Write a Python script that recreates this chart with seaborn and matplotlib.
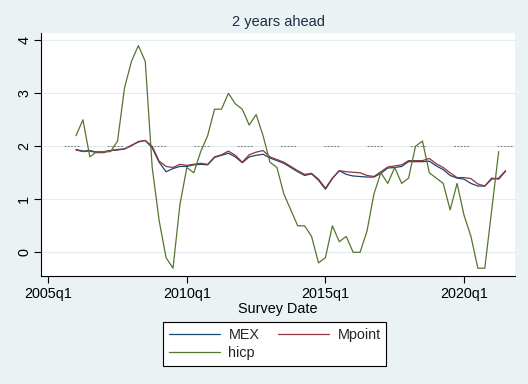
import matplotlib
matplotlib.use("Agg")
import matplotlib.pyplot as plt
import seaborn as sns
import numpy as np
import pandas as pd

# ---- data (quarterly, 2006q1 .. 2021q3) ----
quarters = pd.period_range("2006Q1", "2021Q3", freq="Q")

mex = [1.94, 1.91, 1.92, 1.89, 1.90, 1.92, 1.93, 1.95, 2.01, 2.09, 2.11, 1.97, 1.70, 1.52, 1.58,
       1.62, 1.62, 1.65, 1.66, 1.65, 1.79, 1.83, 1.87, 1.80, 1.69, 1.80, 1.83, 1.85, 1.78, 1.73,
       1.68, 1.60, 1.52, 1.45, 1.48, 1.36, 1.19, 1.39, 1.54, 1.47, 1.44, 1.43, 1.42, 1.42, 1.49,
       1.59, 1.60, 1.62, 1.71, 1.71, 1.71, 1.72, 1.63, 1.56, 1.45, 1.40, 1.38, 1.30, 1.25, 1.25,
       1.40, 1.38, 1.53]
mpoint = [1.93, 1.90, 1.91, 1.88, 1.88, 1.92, 1.94, 1.95, 2.02, 2.08, 2.11, 2.00, 1.72, 1.62, 1.60,
          1.66, 1.64, 1.66, 1.68, 1.66, 1.80, 1.84, 1.91, 1.83, 1.70, 1.84, 1.89, 1.92, 1.80, 1.75,
          1.70, 1.62, 1.54, 1.47, 1.49, 1.38, 1.21, 1.40, 1.54, 1.52, 1.51, 1.50, 1.45, 1.43, 1.52,
          1.61, 1.63, 1.65, 1.73, 1.73, 1.73, 1.77, 1.67, 1.60, 1.50, 1.41, 1.41, 1.39, 1.29, 1.25,
          1.38, 1.40, 1.54]
hicp = [2.2, 2.5, 1.8, 1.9, 1.9, 1.9, 2.1, 3.1, 3.6, 3.9, 3.6, 1.6, 0.6, -0.1, -0.3,
        0.9, 1.6, 1.5, 1.9, 2.2, 2.7, 2.7, 3.0, 2.8, 2.7, 2.4, 2.6, 2.2, 1.7, 1.6,
        1.1, 0.8, 0.5, 0.5, 0.3, -0.2, -0.1, 0.5, 0.2, 0.3, 0.0, 0.0, 0.4, 1.1, 1.5,
        1.3, 1.6, 1.3, 1.4, 2.0, 2.1, 1.5, 1.4, 1.3, 0.8, 1.3, 0.7, 0.3, -0.3, -0.3,
        0.8, 1.9, np.nan]

series_names = ["MEX", "Mpoint", "hicp"]
colors = ["#1a476f", "#90353b", "#55752f"]
x_ticks = [2005, 2010, 2015, 2020]
x_ticklabels = ["2005q1", "2010q1", "2015q1", "2020q1"]
y_ticks = [0, 1, 2, 3, 4]
target = 2

t = quarters.year + (quarters.quarter - 1) / 4.0
df = pd.DataFrame({"t": np.tile(t, 3),
                   "value": mex + mpoint + hicp,
                   "series": np.repeat(series_names, len(t))})

# ---- style ----
bg = "#eaf2f3"
sns.set_style("white")
plt.rcParams["font.family"] = ["Liberation Sans", "DejaVu Sans"]
plt.rcParams["lines.scale_dashes"] = False

fig = plt.figure(figsize=(5.28, 3.84), dpi=100, facecolor=bg)
ax = fig.add_axes([41/528, 1-276/384, (515-41)/528, (276-32.5)/384])
ax.set_facecolor("white")

for yv in y_ticks:
    ax.axhline(yv, color="#e2ebee", lw=0.8, zorder=0)

# dashed reference line at 2 (groups of small dots), pattern in points
px = 0.72
dot, dgap = 1.8 * px, 1.5 * px
pattern = (dot, dgap) * 4 + (dot, 28.3 * px)
ax.axhline(target, color="#6a6a6a", lw=0.6, zorder=1,
           linestyle=(20.3 * px, pattern))

sns.lineplot(data=df, x="t", y="value", hue="series", hue_order=series_names,
             palette=colors, lw=0.9, ax=ax, legend=False, zorder=3)

ax.set_xlim(2005 - 1.05/4, 2005 + 67.36/4)
ax.set_ylim(-0.447, 4.147)
ax.set_xticks(x_ticks)
ax.set_xticklabels(x_ticklabels)
ax.set_yticks(y_ticks)
ax.set_yticklabels([str(v) for v in y_ticks], rotation=90, va="center")
ax.tick_params(axis="both", direction="out", length=5, width=0.8, color="#000000",
               labelsize=10.4, labelcolor="#000000", pad=3)
ax.tick_params(axis="y", pad=2)
ax.tick_params(axis="both", which="both", bottom=True, left=True)

for s in ["top", "right"]:
    ax.spines[s].set_visible(False)
for s in ["left", "bottom"]:
    ax.spines[s].set_color("#000000")
    ax.spines[s].set_linewidth(0.8)

ax.set_xlabel("Survey Date", fontsize=10.4, labelpad=1, color="#000000")
ax.set_ylabel("")
ax.set_title("2 years ahead", fontsize=10.5, color="#1e2d46", pad=5)

lines = [l for l in ax.get_lines() if len(l.get_xdata()) > 2][:3]
# column-major fill: [MEX, hicp | Mpoint] -> rows: MEX Mpoint / hicp
order = [0, 2, 1]
leg = fig.legend([lines[i] for i in order], [series_names[i] for i in order],
                 loc="center", ncol=2,
                 bbox_to_anchor=(0.5208, 1-344/384), fontsize=10.4,
                 frameon=True, fancybox=False, edgecolor="#000000",
                 facecolor="white", framealpha=1, handlelength=3.5,
                 handletextpad=0.6, columnspacing=1.3, borderpad=0.4,
                 labelspacing=0.3)
leg.get_frame().set_linewidth(0.8)

fig.savefig("out.png", dpi=100, facecolor=bg)
